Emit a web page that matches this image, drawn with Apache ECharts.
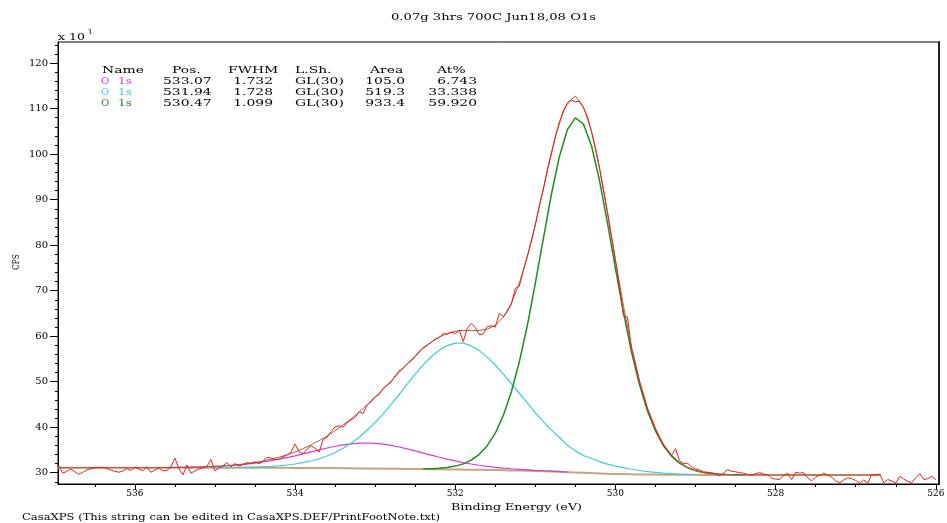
<!DOCTYPE html>
<html><head><meta charset="utf-8">
<script src="https://cdn.jsdelivr.net/npm/echarts@6/dist/echarts.min.js"></script>
<style>html,body{margin:0;padding:0;background:#fff}#c{width:947px;height:523px}</style>
</head><body><div id="c"></div>
<script>
// ---------------- DATA ----------------
const energyCoarse = [
537,536.9,536.8,536.7,536.6,536.5,536.4,536.3,536.2,536.1,
536,535.9,535.8,535.7,535.6,535.5,535.4,535.3,535.2,535.1,
535,534.9,534.8,534.7,534.6,534.5,534.4,534.3,534.2,534.1,
534,533.9,533.8,533.7,533.6,533.5,533.4,533.3,533.2,533.1,
533,532.9,532.8,532.7,532.6,532.5,532.4,532.3,532.2,532.1,
532,531.9,531.8,531.7,531.6,531.5,531.4,531.3,531.2,531.1,
531,530.9,530.8,530.7,530.6,530.5,530.4,530.3,530.2,530.1,
530,529.9,529.8,529.7,529.6,529.5,529.4,529.3,529.2,529.1,
529,528.9,528.8,528.7,528.6,528.5,528.4,528.3,528.2,528.1,
528,527.9,527.8,527.7,527.6,527.5,527.4,527.3,527.2,527.1,
527,526.9,526.8,526.7,526.6,526.5,526.4,526.3,526.2,526.1,
526];
const energyFine = [
537,536.95,536.9,536.85,536.8,536.75,536.7,536.65,536.6,536.55,536.5,536.45,536.4,536.35,536.3,536.25,536.2,536.15,536.1,536.05,
536,535.95,535.9,535.85,535.8,535.75,535.7,535.65,535.6,535.55,535.5,535.45,535.4,535.35,535.3,535.25,535.2,535.15,535.1,535.05,
535,534.95,534.9,534.85,534.8,534.75,534.7,534.65,534.6,534.55,534.5,534.45,534.4,534.35,534.3,534.25,534.2,534.15,534.1,534.05,
534,533.95,533.9,533.85,533.8,533.75,533.7,533.65,533.6,533.55,533.5,533.45,533.4,533.35,533.3,533.25,533.2,533.15,533.1,533.05,
533,532.95,532.9,532.85,532.8,532.75,532.7,532.65,532.6,532.55,532.5,532.45,532.4,532.35,532.3,532.25,532.2,532.15,532.1,532.05,
532,531.95,531.9,531.85,531.8,531.75,531.7,531.65,531.6,531.55,531.5,531.45,531.4,531.35,531.3,531.25,531.2,531.15,531.1,531.05,
531,530.95,530.9,530.85,530.8,530.75,530.7,530.65,530.6,530.55,530.5,530.45,530.4,530.35,530.3,530.25,530.2,530.15,530.1,530.05,
530,529.95,529.9,529.85,529.8,529.75,529.7,529.65,529.6,529.55,529.5,529.45,529.4,529.35,529.3,529.25,529.2,529.15,529.1,529.05,
529,528.95,528.9,528.85,528.8,528.75,528.7,528.65,528.6,528.55,528.5,528.45,528.4,528.35,528.3,528.25,528.2,528.15,528.1,528.05,
528,527.95,527.9,527.85,527.8,527.75,527.7,527.65,527.6,527.55,527.5,527.45,527.4,527.35,527.3,527.25,527.2,527.15,527.1,527.05,
527,526.95,526.9,526.85,526.8,526.75,526.7,526.65,526.6,526.55,526.5,526.45,526.4,526.35,526.3,526.25,526.2,526.15,526.1,526.05,
526];
// measured counts (x10)
const rawCounts = [
31.9,31.5,29.9,30.3,30.8,30.2,29.7,30.1,30.6,30.9,
31.1,31.1,31.2,30.9,30.6,30.3,30.1,30.4,30.9,30.5,
31.2,30.8,30.4,31.3,30.1,30.6,31.0,30.4,30.5,31.3,
33.2,30.9,29.5,31.7,29.9,30.4,30.8,31.1,31.4,32.9,
30.4,31.0,31.5,32.2,31.3,32.0,31.5,31.8,32.2,32.0,
32.4,32.0,32.5,33.4,33.2,32.9,33.0,33.4,33.9,34.5,
36.3,34.6,34.2,35.2,35.9,35.4,34.5,37.3,37.8,39.0,
40.1,40.3,40.0,41.0,41.6,42.2,43.4,43.0,44.9,45.6,
46.7,47.2,48.6,49.2,49.9,51.3,52.4,53.0,54.0,54.6,
55.5,56.7,57.5,58.1,58.6,59.4,59.7,60.6,60.4,60.9,
60.6,61.3,58.8,61.7,62.8,61.9,60.3,60.5,62.1,62.3,
62.0,65.0,64.3,65.4,67.0,70.5,71.0,74.4,77.6,80.8,
84.4,88.7,92.2,96.6,100.0,103.9,106.7,109.6,111.0,111.9,
111.5,111.6,110.2,108.3,105.0,101.5,97.2,92.3,87.4,82.0,
76.8,71.0,64.5,64.2,57.4,53.8,50.0,47.1,44.0,41.9,
39.7,37.8,36.1,34.9,33.8,35.3,32.6,32.0,32.1,31.3,
30.8,30.6,30.2,30.1,30.0,29.8,29.3,29.9,30.7,30.3,
30.2,30.0,29.9,29.6,29.5,29.8,30.0,29.7,29.6,28.8,
28.6,28.5,29.4,29.9,28.5,30.1,29.9,30.0,28.9,28.2,
29.1,29.4,29.9,29.5,29.0,28.2,27.8,28.4,28.9,28.7,
28.3,27.7,28.4,27.7,29.6,29.5,29.7,27.8,28.5,28.2,
27.7,29.2,28.6,28.1,27.8,28.9,29.8,28.5,28.7,29.2,
28.5];
const _ = null;
const background = [
31.10,31.10,31.10,31.10,31.10,31.10,31.10,31.10,31.10,31.10,
31.10,31.10,31.10,31.10,31.10,31.10,31.10,31.10,31.10,31.10,
31.10,31.10,31.10,31.10,31.10,31.10,
31.09,31.09,31.08,31.07,31.06,31.05,31.04,31.03,31.02,31.01,
30.99,30.97,30.95,30.93,30.91,30.89,30.87,30.85,30.83,30.81,
30.79,30.77,30.75,30.73,30.71,30.68,30.66,30.63,30.60,30.57,
30.54,30.50,30.46,30.42,30.37,30.32,30.26,30.19,30.12,30.05,
29.98,29.91,29.85,29.79,29.74,29.70,29.66,29.63,29.61,29.59,
29.57,29.56,29.55,29.54,29.53,29.52,29.52,29.51,29.51,
29.50,29.50,29.50,29.50,29.50,29.50,29.50,29.50,29.50,29.50,
29.50,29.50,29.50,29.50,29.50,29.50,29.50,29.50,29.50,
_,_,_,_,_,_,_];
const peakMagenta = [
_,_,_,_,_,_,_,_,_,_,_,_,_,_,
31.14,31.16,31.18,31.21,31.25,31.31,31.38,31.47,31.58,31.72,
31.90,32.11,32.35,32.64,32.96,33.31,33.71,34.14,34.57,35.01,
35.43,35.81,36.12,36.35,36.50,36.53,36.46,36.27,36.00,35.65,
35.24,34.79,34.32,33.86,33.40,32.97,32.59,32.23,31.92,31.64,
31.40,31.19,31.02,30.87,30.74,30.63,30.52,30.43,30.34,30.25,30.16,
_,_,_,_,_,_,_,_,_,_,_,_,_,_,_,_,_,_,_,_,_,_,_,_,_,_,_,_,_,_,_,_,_,_,_,_,_,_,_,_,_,_,_,_,_,_];
const peakCyan = [
_,_,_,_,_,_,_,_,_,_,_,_,_,_,_,_,_,_,_,_,
31.12,31.13,31.15,31.18,31.21,31.26,31.32,31.41,31.53,31.69,
31.91,32.21,32.58,33.07,33.68,34.44,35.36,36.47,37.78,39.32,
41.02,42.94,45.03,47.22,49.45,51.64,53.70,55.47,56.91,57.93,
58.49,58.48,57.86,56.83,55.40,53.67,51.64,49.60,47.46,45.32,
43.17,41.22,39.36,37.79,36.02,34.80,33.78,33.11,32.45,31.89,
31.44,31.10,30.76,30.48,30.26,30.09,29.92,29.81,29.72,29.64,29.58,
_,_,_,_,_,_,_,_,_,_,_,_,_,_,_,_,_,_,_,_,_,_,_,_,_,_,_,_,_,_];
const peakGreen = [
_,_,_,_,_,_,_,_,_,_,_,_,_,_,_,_,_,_,_,_,_,_,_,_,_,_,_,_,_,_,_,_,_,_,_,_,_,_,_,_,_,_,_,_,_,_,
30.85,30.89,30.99,31.15,31.45,31.94,32.77,34.04,35.94,38.68,
42.59,47.74,54.37,62.34,71.65,81.45,91.13,99.44,105.37,107.97,
106.62,101.92,94.31,84.94,74.91,65.30,56.57,49.37,43.57,39.17,
35.90,33.65,32.11,31.10,30.45,30.04,29.82,29.68,29.60,29.55,29.53,
_,_,_,_,_,_,_,_,_,_,_,_,_,_,_,_,_,_,_,_,_,_,_,_];
const envelope = [
31.10,31.10,31.10,31.10,31.10,31.10,31.10,31.10,31.10,31.10,31.10,31.10,31.10,31.10,
31.14,31.16,31.19,31.22,31.26,31.33,31.40,31.50,31.63,31.80,
32.01,32.27,32.58,32.96,33.41,33.93,34.56,35.30,36.11,37.05,
38.09,39.24,40.49,41.85,43.33,44.92,46.57,48.32,50.16,52.02,
53.86,55.62,57.29,58.68,59.80,60.59,61.11,61.29,61.23,61.25,
61.54,62.40,64.17,67.21,71.65,77.45,84.60,92.46,100.31,107.10,
111.31,112.75,110.44,105.13,96.91,87.04,76.61,66.70,57.67,50.22,
44.22,39.67,36.25,33.90,32.28,31.20,30.50,30.04,29.82,29.68,29.60,29.55,29.53,
29.50,29.50,29.50,29.50,29.50,29.50,29.50,29.50,29.50,29.50,29.50,29.50,29.50,29.50,29.50,29.50,29.50,
_,_,_,_,_,_,_];
const xTickLabels = [526,528,530,532,534,536];
const xMinorTicks = [526.5,527,527.5,528,528.5,529,529.5,530,530.5,531,531.5,532,532.5,533,533.5,534,534.5,535,535.5,536,536.5];
const yTickLabels = [30,40,50,60,70,80,90,100,110,120];
const yMinorTicks = [28,32,34,36,38,42,44,46,48,52,54,56,58,62,64,66,68,72,74,76,78,82,84,86,88,92,94,96,98,102,104,106,108,112,114,116,118,122,124];
const titleText = '0.07g 3hrs 700C Jun18,08 O1s';
const xAxisTitle = 'Binding Energy (eV)';
const yAxisTitle = 'CPS';
const footNote = 'CasaXPS (This string can be edited in CasaXPS.DEF/PrintFootNote.txt)';
const tableHeader = ['Name','Pos.','FWHM','L.Sh.','Area','At%'];
const tableNames = ['1s','1s','1s'];
const tablePos = ['533.07','531.94','530.47'];
const tableFWHM = ['1.732','1.728','1.099'];
const tableShape = ['GL(30)','GL(30)','GL(30)'];
const tableArea = ['105.0','519.3','933.4'];
const tableAt = ['6.743','33.338','59.920'];

// ---------------- STYLE / LAYOUT ----------------
const C_RED = '#ee1c1c', C_ENV = '#a4633a', C_BG = '#c9a27f',
      C_MAG = '#d93ad9', C_CYAN = '#3ccfcf', C_GREEN = '#1d8d1d';
const rowColors = [C_MAG, C_CYAN, C_GREEN];
const FONT = '"DejaVu Serif"';
const mctx = document.createElement('canvas').getContext('2d');
function measure(str, size) { mctx.font = size + 'px ' + FONT; return mctx.measureText(str).width; }
function txt(str, x, y, size, opts) {
  opts = opts || {};
  const align = opts.align || 'left';
  let sx = 1;
  if (opts.w) sx = opts.w / measure(str, size);
  if (opts.sx) sx = opts.sx;
  const el = {
    type: 'text', x: x, y: y, scaleX: sx, silent: true, z: 100,
    style: { text: str, font: size + 'px ' + FONT, fill: opts.color || '#000',
      align: align, verticalAlign: 'middle', textAlign: align, textVerticalAlign: 'middle' }
  };
  if (opts.rotation) el.rotation = opts.rotation;
  return el;
}
function pairs(xs, ys) { const out = []; for (let i = 0; i < xs.length; i++) if (ys[i] != null) out.push([xs[i], ys[i]]); return out; }

const graphics = [];
graphics.push(txt(titleText, 391, 17, 10, { w: 205 }));
graphics.push(txt('x 10', 58, 37, 10, { w: 27 }));
graphics.push(txt('1', 88, 32, 7));
graphics.push(txt(xAxisTitle, 451, 507, 10, { w: 131 }));
graphics.push(txt(footNote, 22, 517, 10, { w: 418 }));
graphics.push(txt(yAxisTitle, 16, 262, 10, { w: 16, align: 'center', rotation: Math.PI / 2 }));
const TSX = 1.39;
const hdrX = [102, 172, 228, 295, 370, 437];
tableHeader.forEach((h, i) => graphics.push(txt(h, hdrX[i], 70.5, 10, { sx: TSX })));
const rowY = [81, 92, 103.5];
for (let r = 0; r < 3; r++) {
  const y = rowY[r];
  graphics.push(txt('O', 101, y, 10, { sx: 1.0, color: rowColors[r] }));
  graphics.push(txt(tableNames[r], 118, y, 10, { sx: 1.2, color: rowColors[r] }));
  graphics.push(txt(tablePos[r], 163, y, 10, { sx: TSX }));
  graphics.push(txt(tableFWHM[r], 273, y, 10, { sx: TSX, align: 'right' }));
  graphics.push(txt(tableShape[r], 295, y, 10, { sx: TSX }));
  graphics.push(txt(tableArea[r], 405, y, 10, { sx: TSX, align: 'right' }));
  graphics.push(txt(tableAt[r], 477, y, 10, { sx: TSX, align: 'right' }));
}

const XMIN = 525.96, XMAX = 536.96, YMIN = 27.52, YMAX = 124.64;
function lineSeries(name, xs, ys, color, width, z) {
  return { name, type: 'line', data: pairs(xs, ys), showSymbol: false, symbol: 'none',
    lineStyle: { color, width }, z, silent: true, animation: false, clip: true };
}
const option = {
  animation: false,
  backgroundColor: '#fff',
  grid: { left: 58, top: 42, width: 881, height: 442, show: true, borderColor: '#000', borderWidth: 1,
    containLabel: false, outerBoundsMode: 'none' },
  xAxis: [
    { type: 'value', min: XMIN, max: XMAX, inverse: true, position: 'bottom',
      axisLine: { show: true, onZero: false, lineStyle: { color: '#000', width: 1 } },
      axisTick: { show: true, customValues: xTickLabels, length: 6, lineStyle: { color: '#000' } },
      axisLabel: { customValues: xTickLabels, fontFamily: FONT, fontSize: 9, color: '#000', margin: 5 },
      splitLine: { show: false } },
    { type: 'value', min: XMIN, max: XMAX, inverse: true, position: 'bottom',
      axisLine: { show: false, onZero: false },
      axisTick: { show: true, customValues: xMinorTicks, length: 3, lineStyle: { color: '#000' } },
      axisLabel: { show: false }, splitLine: { show: false } }
  ],
  yAxis: [
    { type: 'value', min: YMIN, max: YMAX, position: 'left',
      axisLine: { show: true, onZero: false, lineStyle: { color: '#000', width: 1 } },
      axisTick: { show: true, customValues: yTickLabels, length: 8, lineStyle: { color: '#000' } },
      axisLabel: { customValues: yTickLabels, fontFamily: FONT, fontSize: 10, color: '#000', margin: 10, padding: [0, 0, 5, 0] },
      splitLine: { show: false } },
    { type: 'value', min: YMIN, max: YMAX, position: 'left',
      axisLine: { show: false, onZero: false },
      axisTick: { show: true, customValues: yMinorTicks, length: 3, lineStyle: { color: '#000' } },
      axisLabel: { show: false }, splitLine: { show: false } },
    { type: 'value', min: YMIN, max: YMAX, position: 'right',
      axisLine: { show: true, onZero: false, lineStyle: { color: '#222', width: 2 } },
      axisTick: { show: false }, axisLabel: { show: false }, splitLine: { show: false } }
  ],
  series: [
    lineSeries('background', energyCoarse, background, C_BG, 2, 2),
    lineSeries('O 1s 533.07', energyCoarse, peakMagenta, C_MAG, 1.2, 3),
    lineSeries('O 1s 531.94', energyCoarse, peakCyan, C_CYAN, 1.2, 3),
    lineSeries('O 1s 530.47', energyCoarse, peakGreen, C_GREEN, 1.5, 4),
    lineSeries('envelope', energyCoarse, envelope, C_ENV, 1, 5),
    lineSeries('data', energyFine, rawCounts, C_RED, 1, 6)
  ],
  graphic: { elements: graphics }
};
const chart = echarts.init(document.getElementById('c'), null, { renderer: 'canvas' });
chart.setOption(option);
</script></body></html>
